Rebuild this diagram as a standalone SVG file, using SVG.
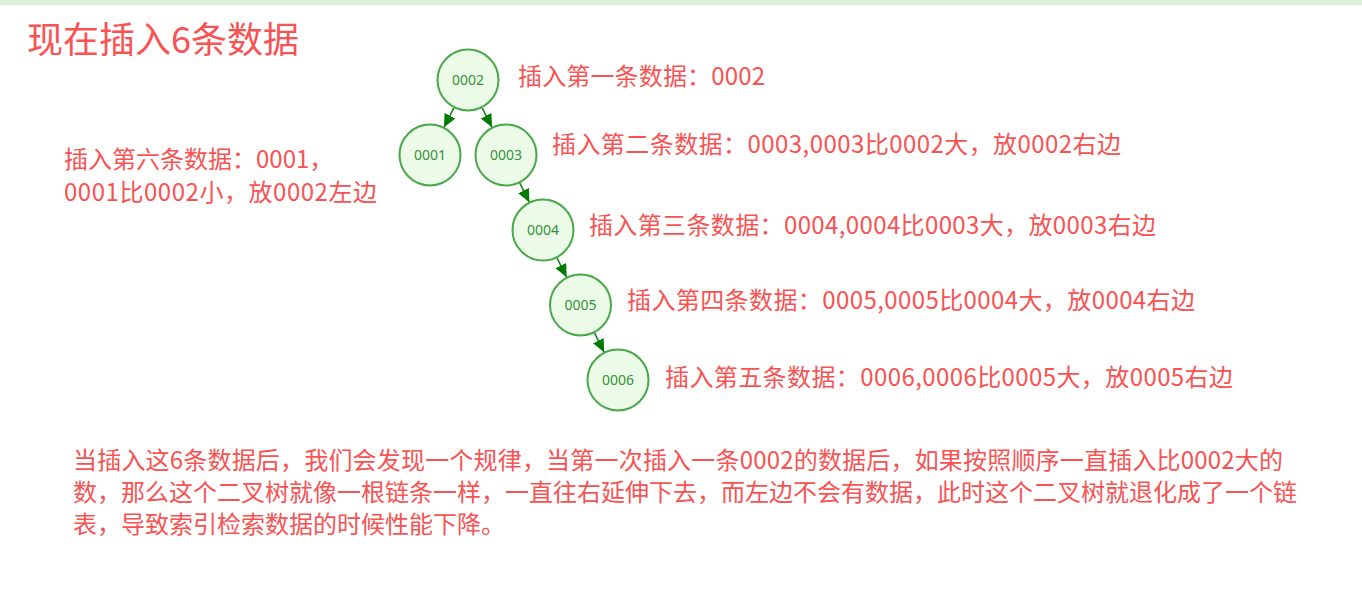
<svg xmlns="http://www.w3.org/2000/svg" width="1362" height="603" viewBox="0 0 1362 603">
<style>
  .t { font-family: "Noto Sans CJK SC", "Noto Sans", sans-serif; fill: #f85252; }
  .lbl { font-size: 24px; }
  .title { font-size: 36px; }
  .node circle { fill: #ecfbe8; stroke: #4aa84a; stroke-width: 2; }
  .node text { font-family: "Noto Sans", "DejaVu Sans", sans-serif; font-size: 14px; fill: #36913a; text-anchor: middle; }
  .edge { stroke: #1a8a1a; stroke-width: 1.6; fill: none; marker-end: url(#arr); }
</style>
<defs>
  <marker id="arr" markerUnits="userSpaceOnUse" markerWidth="14" markerHeight="13" refX="13" refY="6" orient="auto">
    <path d="M0,0 L13,6 L0,12 z" fill="#007a00"/>
  </marker>
</defs>
<rect x="0" y="0" width="1362" height="603" fill="#ffffff"/>
<rect x="0" y="0" width="1362" height="5" fill="#dfeedd"/>
<text class="t title" x="27" y="53">现在插入6条数据</text>

<g id="connectors">
  <line class="edge" x1="454" y1="107.7" x2="444" y2="127.3"/>
  <line class="edge" x1="482" y1="107.7" x2="492" y2="127.3"/>
  <line class="edge" x1="519.7" y1="182.8" x2="529.3" y2="202.2"/>
  <line class="edge" x1="556.9" y1="257.7" x2="566.6" y2="277.3"/>
  <line class="edge" x1="594.4" y1="332.7" x2="604.1" y2="352.3"/>
</g>

<g id="n0002" class="node"><circle cx="468" cy="80" r="30.5"/><text x="468" y="85">0002</text></g>
<g id="n0001" class="node"><circle cx="430" cy="155" r="30.5"/><text x="430" y="160">0001</text></g>
<g id="n0003" class="node"><circle cx="506" cy="155" r="30.5"/><text x="506" y="160">0003</text></g>
<g id="n0004" class="node"><circle cx="543" cy="230" r="30.5"/><text x="543" y="235">0004</text></g>
<g id="n0005" class="node"><circle cx="580.5" cy="305" r="30.5"/><text x="580.5" y="310">0005</text></g>
<g id="n0006" class="node"><circle cx="618" cy="380" r="30.5"/><text x="618" y="385">0006</text></g>

<g id="labels">
  <text class="t lbl" x="518" y="85" textLength="247" lengthAdjust="spacing">插入第一条数据：0002</text>
  <text class="t lbl" x="552" y="153" textLength="569" lengthAdjust="spacing">插入第二条数据：0003,0003比0002大，放0002右边</text>
  <text class="t lbl" x="589" y="234" textLength="567" lengthAdjust="spacing">插入第三条数据：0004,0004比0003大，放0003右边</text>
  <text class="t lbl" x="627" y="309" textLength="568" lengthAdjust="spacing">插入第四条数据：0005,0005比0004大，放0004右边</text>
  <text class="t lbl" x="665" y="386" textLength="568" lengthAdjust="spacing">插入第五条数据：0006,0006比0005大，放0005右边</text>
  <text class="t lbl" x="64" y="168">插入第六条数据：0001，</text>
  <text class="t lbl" x="64" y="201" textLength="313" lengthAdjust="spacing">0001比0002小，放0002左边</text>
</g>

<g id="summary">
  <text class="t lbl" x="73" y="469" textLength="1210" lengthAdjust="spacing">当插入这6条数据后，我们会发现一个规律，当第一次插入一条0002的数据后，如果按照顺序一直插入比0002大的</text>
  <text class="t lbl" x="73" y="501">数，那么这个二叉树就像一根链条一样，一直往右延伸下去，而左边不会有数据，此时这个二叉树就退化成了一个链</text>
  <text class="t lbl" x="73" y="533">表，导致索引检索数据的时候性能下降。</text>
</g>
</svg>
